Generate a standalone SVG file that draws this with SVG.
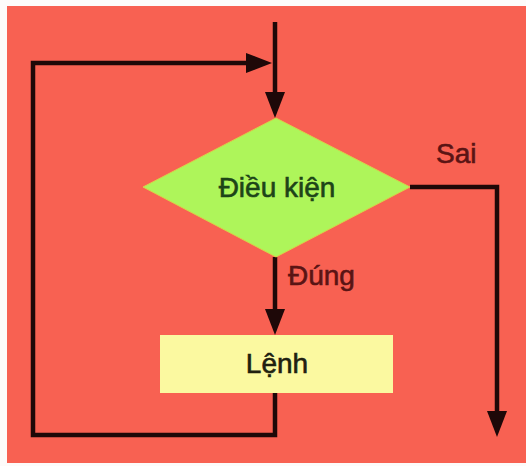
<svg xmlns="http://www.w3.org/2000/svg" width="526" height="466" viewBox="0 0 526 466">
<style>
.ln{fill:none;stroke:#1e0808;stroke-width:4.5;stroke-linejoin:miter}
.t{font-family:"Liberation Sans",Arial,sans-serif;font-size:28px;stroke-width:0.6}
</style>
<defs>
<marker id="ah" viewBox="0 0 26 20" refX="16" refY="10" markerWidth="26" markerHeight="20" markerUnits="userSpaceOnUse" orient="auto">
<path d="M0,0 L26,10 L0,20 Z" fill="#1e0808"/>
</marker>
</defs>
<rect width="526" height="466" fill="#fdfbfa"/>
<rect x="7" y="6" width="519" height="457" fill="#f86152"/>
<g id="connectors">
<path class="ln" d="M275,22 V108" marker-end="url(#ah)"/>
<path class="ln" d="M275,393 V435 H33 V63 H262" marker-end="url(#ah)"/>
<path class="ln" d="M275,257 V325" marker-end="url(#ah)"/>
<path class="ln" d="M410,187 H497 V427" marker-end="url(#ah)"/>
</g>
<g id="condition">
<polygon points="143,187 276,118 410,187 276,257" fill="#aef55a" stroke="#d8d048" stroke-width="1"/>
<text class="t" x="277" y="197" text-anchor="middle" fill="#1d4418" stroke="#1d4418">Điều kiện</text>
</g>
<g id="statement">
<rect x="160" y="335" width="233" height="58" fill="#fbf9a0"/>
<text class="t" x="277" y="373" text-anchor="middle" fill="#202010" stroke="#202010">Lệnh</text>
</g>
<g id="labels">
<text class="t" x="288" y="285" fill="#5a1414" stroke="#5a1414">Đúng</text>
<text class="t" x="436" y="163" fill="#5a1414" stroke="#5a1414">Sai</text>
</g>
</svg>
